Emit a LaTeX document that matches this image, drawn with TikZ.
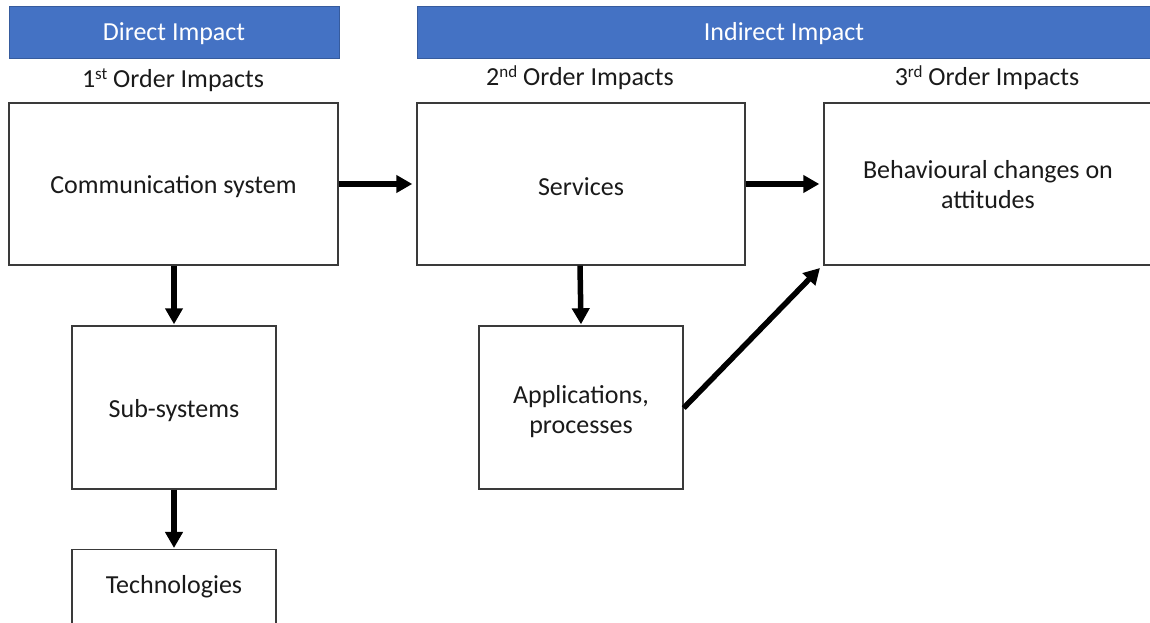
\documentclass[tikz,border=0pt]{standalone}
\usepackage{fontspec}
\setmainfont{Carlito}
\usetikzlibrary{arrows.meta}
\definecolor{hdrblue}{HTML}{4472C4}
\definecolor{boxline}{HTML}{3A3A3A}
\definecolor{txt}{HTML}{1A1A1A}
\newcommand{\sups}[1]{\raisebox{8pt}{\fontsize{17}{20}\selectfont #1}}
\tikzset{
  hdr/.style={fill=hdrblue, draw=hdrblue!80!black, line width=0.6pt, inner sep=0pt},
  hdrtxt/.style={text=white, inner sep=0pt, font=\fontsize{26}{30}\selectfont},
  box/.style={draw=boxline, line width=1.4pt, fill=white, inner sep=0pt},
  boxtxt/.style={text=txt, inner sep=0pt, align=center, yshift=-3pt, font=\fontsize{26}{30}\selectfont},
  lbl/.style={text=txt, inner sep=0pt, font=\fontsize{26}{30}\selectfont},
  arr/.style={-{Triangle[length=16pt,width=17pt]}, line width=5.5pt, black},
}
\begin{document}
\begin{tikzpicture}[x=1pt,y=1pt]
\useasboundingbox (0,0) rectangle (1150,623);
\clip (0,0) rectangle (1150,623);
% headers
\node[hdr, minimum width=330pt, minimum height=52pt] (hdirect) at (174,591) {};
\node[hdrtxt] (hdirtxt) at (174,589) {Direct Impact};
\node[hdr, minimum width=745pt, minimum height=52pt] (hindirect) at (789.5,591) {};
\node[hdrtxt] (hindtxt) at (784,589) {Indirect Impact};
% order labels
\node[lbl] (l1) at (173,543) {1\sups{st} Order Impacts};
\node[lbl] (l2) at (580,545) {2\sups{nd} Order Impacts};
\node[lbl] (l3) at (987,545) {3\sups{rd} Order Impacts};
% boxes
\node[box, minimum width=329pt, minimum height=162pt,
      label={[boxtxt]center:Communication system}] (comm) at (173.5,439) {};
\node[box, minimum width=328pt, minimum height=162pt,
      label={[boxtxt]center:Services}] (serv) at (581,439) {};
\node[box, minimum width=328pt, minimum height=162pt,
      label={[boxtxt, yshift=2pt]center:Behavioural changes on\\attitudes}] (behav) at (988,439) {};
\node[box, minimum width=204pt, minimum height=163pt,
      label={[boxtxt]center:Sub-systems}] (sub) at (174,215.5) {};
\node[box, minimum width=204pt, minimum height=163pt,
      label={[boxtxt, yshift=-1pt]center:Applications,\\processes}] (app) at (581,215.5) {};
\node[box, minimum width=204pt, minimum height=163pt, anchor=north] (tech) at (174,74) {};
\node[boxtxt] (techtxt) at (174,39) {Technologies};
% arrows
\draw[arr] (comm.east) -- ([xshift=-4pt]serv.west);
\draw[arr] (serv.east) -- ([xshift=-4pt]behav.west);
\draw[arr] (comm.south -| sub.north) -- ([yshift=1pt]sub.north);
\draw[arr] ([xshift=-1pt]serv.south) -- ([yshift=1pt]app.north);
\draw[arr] (sub.south) -- ([yshift=1pt]tech.north);
\coordinate (appout) at ([yshift=-0.5pt]app.east);
\coordinate (behin) at (820,355);
\draw[arr] (appout) -- (behin);
\end{tikzpicture}
\end{document}
